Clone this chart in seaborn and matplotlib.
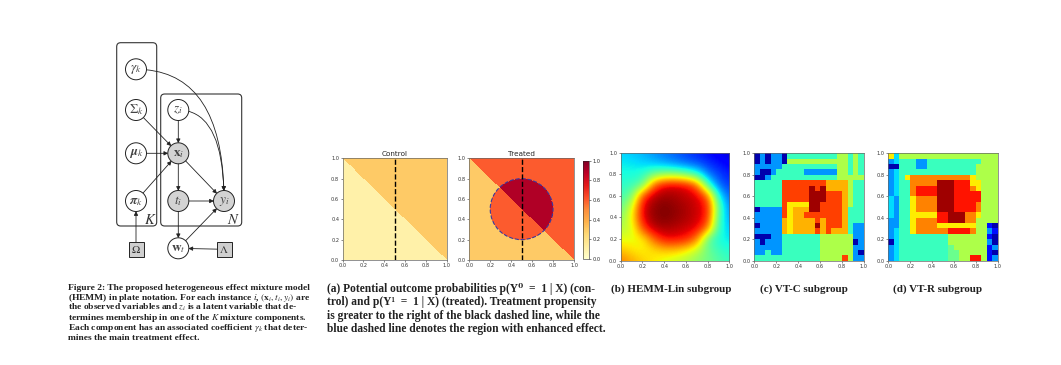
import numpy as np
import matplotlib
matplotlib.use("Agg")
import matplotlib.pyplot as plt
from matplotlib.patches import Circle, Rectangle, FancyBboxPatch, FancyArrowPatch
import seaborn as sns

sns.set_style("white")
plt.rcParams["font.family"] = ["DejaVu Sans"]
plt.rcParams["mathtext.fontset"] = "stix"

TICK_VALUES = [0.0, 0.2, 0.4, 0.6, 0.8, 1.0]
TICK_LABELS = ["0.0", "0.2", "0.4", "0.6", "0.8", "1.0"]

# (a) outcome probabilities per region
P0_LOW, P0_HIGH = 0.10, 0.30           # control: below / above the anti-diagonal
P1_LOW, P1_HIGH = 0.30, 0.60           # treated outside the circle
P1_CIRC_LOW, P1_CIRC_HIGH = 0.60, 0.90 # treated inside the enhanced-effect circle
CIRCLE_CENTER = (0.5, 0.5)
CIRCLE_RADIUS = 0.3
PROPENSITY_SPLIT = 0.5
GRID_N = 200

# (b) HEMM-Lin subgroup probability, read on a 0.1 grid (rows y=1.0 -> 0.0, cols x=0.0 -> 1.0)
HEMM_GRID = [
    [0.33, 0.32, 0.30, 0.27, 0.24, 0.22, 0.19, 0.16, 0.13, 0.10, 0.07],
    [0.36, 0.35, 0.33, 0.31, 0.28, 0.25, 0.22, 0.20, 0.17, 0.14, 0.11],
    [0.38, 0.38, 0.40, 0.48, 0.52, 0.52, 0.48, 0.40, 0.24, 0.19, 0.15],
    [0.40, 0.42, 0.46, 0.80, 0.91, 0.92, 0.90, 0.80, 0.42, 0.22, 0.18],
    [0.43, 0.48, 0.84, 0.95, 0.97, 0.96, 0.94, 0.92, 0.80, 0.35, 0.22],
    [0.47, 0.60, 0.92, 0.98, 1.00, 0.98, 0.96, 0.93, 0.88, 0.45, 0.25],
    [0.52, 0.64, 0.92, 0.98, 1.00, 0.98, 0.96, 0.93, 0.87, 0.42, 0.28],
    [0.57, 0.60, 0.84, 0.95, 0.96, 0.95, 0.93, 0.91, 0.78, 0.40, 0.32],
    [0.63, 0.63, 0.64, 0.80, 0.90, 0.90, 0.88, 0.78, 0.45, 0.38, 0.35],
    [0.70, 0.67, 0.65, 0.67, 0.70, 0.70, 0.66, 0.58, 0.48, 0.42, 0.39],
    [0.78, 0.73, 0.69, 0.66, 0.62, 0.59, 0.56, 0.52, 0.49, 0.45, 0.42],
]

# (c), (d) tree subgroups on a 20x20 grid, one letter per cell (top row first)
LEVELS = {"n": 0.04, "B": 0.14, "b": 0.27, "l": 0.34, "c": 0.42, "t": 0.48,
          "g": 0.56, "y": 0.66, "a": 0.72, "o": 0.77, "r": 0.84, "R": 0.89, "d": 0.97}

VTC_ROWS = [
    "n b n b b n c c c c c c c c c g g c g c",
    "n b n b b n g g g g g g g g g g g c g c",
    "b b b b b c c c c c c c c c c g g c g c",
    "b n n b c c c c c b b b b b b g g c g c",
    "n n b c c c c c c c c c c c c g g g g g",
    "c c c c c r r r r r r r r a a a a g c c",
    "c c c c c r r r r r d r d a a a a g c c",
    "c c c c c r r r r r d d d r r r a g c c",
    "c c c c c r r r r r d d d r r r a g c c",
    "c c c c c r y y y y d d r r r r a g c c",
    "n b b b b r y a a a d d r r r r a c c c",
    "b b b b b r y a a r r r r r r r a c c c",
    "b b b b b a y a a a a r a r r r a c c c",
    "n b b b b a y a a a a d a r r r a c b b",
    "b b b b b a y a a a a r a r a a a c b b",
    "n n n b b c c c c c c c g g g g g g b b",
    "b n b b b c c c c c c c g g g g g g n b",
    "b b b b b c c c c c c c g g g g g g b b",
    "b b c b b c c c c c c c g g g g g g b n",
    "c c c c c c c c c c c c g g g g r g b b",
]

VTR_ROWS = [
    "y l g g g g g g g g g g g g g g g g g g",
    "b l c c c b b c c c c c c c c c c g g g",
    "n n c c c b b c c c c c c c c c g g g g",
    "b l c c c c c c c c c c c c c c g g g g",
    "b l c y o o o o o o o o o o o y g g g g",
    "b l c c o o o o o d d d R R R y y g g g",
    "b l c c o R R R R d d d R R R o y g g g",
    "b l c c o R R R R d d d R R R R R g g g",
    "l b c c y o o o o d d d R R R R R g g g",
    "l b c c y o o o o d d d R R R R o g g g",
    "l b c c y o o o o d d d R R R R o g g g",
    "l b c c y y y y y R R d d d o o y g g g",
    "b b c c y o o o o R R d d d o o g g g g",
    "b b c c y o o o o y y y y y y y g g B n",
    "b l c c y o o o o o o R R R R o g g b B",
    "b l c c c c c c c c c g g g g g g g B n",
    "n l c c c c c c c c c g g g g g g g b n",
    "b l c c c c c c c c c t g g g g g g B b",
    "b l c c c c c c c c c t t g g g g g B n",
    "b l c c c c c c c c c t t g g R R g B b",
]

CAPTION_FIG = [
    "Figure 2: The proposed heterogeneous effect mixture model",
    r"(HEMM) in plate notation. For each instance $i$, $(\mathbf{x}_i, t_i, y_i)$ are",
    r"the observed variables and $z_i$ is a latent variable that de-",
    r"termines membership in one of the $K$ mixture components.",
    r"Each component has an associated coefficient $\gamma_k$ that deter-",
    "mines the main treatment effect.",
]
CAPTION_A = [
    "(a) Potential outcome probabilities p(Y\u2070  =  1 | X) (con-",
    "trol) and p(Y\u00b9  =  1 | X) (treated). Treatment propensity",
    "is greater to the right of the black dashed line, while the",
    "blue dashed line denotes the region with enhanced effect.",
]
CAPTION_B = "(b) HEMM-Lin subgroup"
CAPTION_C = "(c) VT-C subgroup"
CAPTION_D = "(d) VT-R subgroup"


def letters_to_grid(rows):
    grid = np.array([[LEVELS[ch] for ch in row.split()] for row in rows])
    assert grid.shape == (20, 20), grid.shape
    return grid


# build (a) maps from the region values
centers = (np.arange(GRID_N) + 0.5) / GRID_N
gx, gy = np.meshgrid(centers, centers[::-1])
upper = gx + gy > 1
inside = (gx - CIRCLE_CENTER[0]) ** 2 + (gy - CIRCLE_CENTER[1]) ** 2 < CIRCLE_RADIUS ** 2
control = np.where(upper, P0_HIGH, P0_LOW)
treated = np.where(upper, P1_HIGH, P1_LOW)
treated = np.where(inside, np.where(upper, P1_CIRC_HIGH, P1_CIRC_LOW), treated)

fig = plt.figure(figsize=(10.61, 3.65), dpi=100)
fig.patch.set_facecolor("white")

# background axes in pixel units for the diagram and captions
bg = fig.add_axes([0, 0, 1, 1])
bg.set_xlim(0, 1061)
bg.set_ylim(365, 0)
bg.axis("off")


def style_axes(ax):
    for s in ax.spines.values():
        s.set_visible(True)
        s.set_linewidth(0.5)
        s.set_color("#666666")
    ax.tick_params(labelsize=3.6, length=1.5, width=0.4, pad=1,
                   bottom=True, left=True, colors="#333333")


def heat_panel(rect, data, cmap, title=None, cax=None):
    ax = fig.add_axes(rect)
    n = data.shape[0]
    sns.heatmap(data, ax=ax, cmap=cmap, vmin=0, vmax=1, cbar=cax is not None,
                cbar_ax=cax, xticklabels=False, yticklabels=False, rasterized=True)
    ax.set_xticks([v * n for v in TICK_VALUES])
    ax.set_xticklabels(TICK_LABELS, rotation=0)
    ax.set_yticks([(1 - v) * n for v in TICK_VALUES])
    ax.set_yticklabels(TICK_LABELS, rotation=0)
    style_axes(ax)
    if title:
        ax.set_title(title, fontsize=5.2, pad=2)
    return ax


ax_c = heat_panel([0.3230, 0.2877, 0.0980, 0.2786], control, "YlOrRd", "Control")
cax = fig.add_axes([0.5492, 0.2912, 0.0057, 0.2685])
ax_t = heat_panel([0.4423, 0.2877, 0.0987, 0.2786], treated, "YlOrRd", "Treated", cax=cax)
for ax in (ax_c, ax_t):
    ax.axvline(PROPENSITY_SPLIT * GRID_N, color="black", ls="--", lw=1.0)
ax_t.add_patch(Circle((CIRCLE_CENTER[0] * GRID_N, (1 - CIRCLE_CENTER[1]) * GRID_N),
                      CIRCLE_RADIUS * GRID_N, fill=False, ec="#3a3aa0", ls="--", lw=0.8))
cb = ax_t.collections[0].colorbar
cb.set_ticks(TICK_VALUES)
cb.set_ticklabels(TICK_LABELS)
cb.outline.set_linewidth(0.4)
cax.tick_params(labelsize=3.6, length=1.5, width=0.4, pad=1, right=True)

# (b) smooth probability map
ax_b = fig.add_axes([0.5850, 0.2858, 0.1024, 0.2959])
ax_b.imshow(np.array(HEMM_GRID), cmap="jet", vmin=0, vmax=1, interpolation="bicubic",
            extent=(-0.05, 1.05, -0.05, 1.05), origin="upper", aspect="auto")
ax_b.set_xlim(0, 1)
ax_b.set_ylim(0, 1)
ax_b.set_xticks(TICK_VALUES)
ax_b.set_xticklabels(TICK_LABELS)
ax_b.set_yticks(TICK_VALUES)
ax_b.set_yticklabels(TICK_LABELS)
style_axes(ax_b)

heat_panel([0.7109, 0.2858, 0.1034, 0.2942], letters_to_grid(VTC_ROWS), "jet")
heat_panel([0.8372, 0.2858, 0.1031, 0.2942], letters_to_grid(VTR_ROWS), "jet")

# plate diagram (pixel layout)
NODE_R = 10.5
nodes = {
    "gamma": (136, 69.3, r"$\gamma_k$", False),
    "sigma": (136, 110, r"$\Sigma_k$", False),
    "mu": (136, 153.3, r"$\boldsymbol{\mu}_k$", False),
    "pi": (136, 201, r"$\boldsymbol{\pi}_k$", False),
    "z": (178.3, 110, r"$z_i$", False),
    "x": (178.3, 153.3, r"$\mathbf{x}_i$", True),
    "t": (178.3, 201, r"$t_i$", True),
    "y": (224, 201, r"$y_i$", True),
    "w": (178.3, 248.3, r"$\mathbf{w}_t$", False),
}
squares = {
    "omega": (136, 249.3, r"$\Omega$"),
    "lam": (224, 249.3, r"$\Lambda$"),
}
shapes = {}
for key, (x, y, label, shaded) in nodes.items():
    c = Circle((x, y), NODE_R, fc="#d3d3d3" if shaded else "white", ec="#222222", lw=0.7, zorder=3)
    bg.add_patch(c)
    shapes[key] = (c, (x, y))
    bg.text(x, y, label, ha="center", va="center", fontsize=9.5, color="#444444", zorder=4)
for key, (x, y, label) in squares.items():
    r = Rectangle((x - 7.5, y - 7.5), 15, 15, fc="#cfcfcf", ec="#222222", lw=0.7, zorder=3)
    bg.add_patch(r)
    shapes[key] = (r, (x, y))
    bg.text(x, y, label, ha="center", va="center", fontsize=8, color="#333333", zorder=4)

for x0, y0, w, h in [(116.7, 42.7, 40, 183.3), (160.7, 94, 81, 132)]:
    bg.add_patch(FancyBboxPatch((x0, y0), w, h, boxstyle="round,pad=0,rounding_size=4",
                                fill=False, ec="#333333", lw=0.8, zorder=1))
bg.text(150, 219, r"$K$", ha="center", va="center", fontsize=10.5, color="#333333")
bg.text(233, 219, r"$N$", ha="center", va="center", fontsize=10.5, color="#333333")

curve = "angle3,angleA=0,angleB=90"
edges = [("gamma", "y", curve), ("z", "y", curve), ("z", "x", "arc3"), ("sigma", "x", "arc3"),
         ("mu", "x", "arc3"), ("pi", "x", "arc3"), ("x", "t", "arc3"), ("x", "y", "arc3"),
         ("t", "y", "arc3"), ("t", "w", "arc3"), ("w", "y", "arc3"), ("lam", "w", "arc3"),
         ("omega", "pi", "arc3")]
for a, b, style in edges:
    pa, ca = shapes[a]
    pb, cb_ = shapes[b]
    bg.add_patch(FancyArrowPatch(ca, cb_, arrowstyle="-|>", mutation_scale=6, lw=0.6,
                                 color="#222222", patchA=pa, patchB=pb, shrinkA=0, shrinkB=0,
                                 connectionstyle=style, zorder=2))

# captions
serif = ["Liberation Serif", "DejaVu Serif"]
for k, line in enumerate(CAPTION_FIG):
    bg.text(68, 290 + 10.1 * k, line, fontsize=6.8, fontweight="bold", family=serif,
            va="baseline", ha="left", color="#222222")
for k, line in enumerate(CAPTION_A):
    bg.text(327, 292 + 13.3 * k, line, fontsize=8.3, fontweight="bold", family=serif,
            va="baseline", ha="left", color="#222222")
for x, text in [(611, CAPTION_B), (760, CAPTION_C), (893, CAPTION_D)]:
    bg.text(x, 292, text, fontsize=7.9, fontweight="bold", family=serif,
            va="baseline", ha="left", color="#222222")

fig.savefig("out.png", dpi=100, facecolor="white")
